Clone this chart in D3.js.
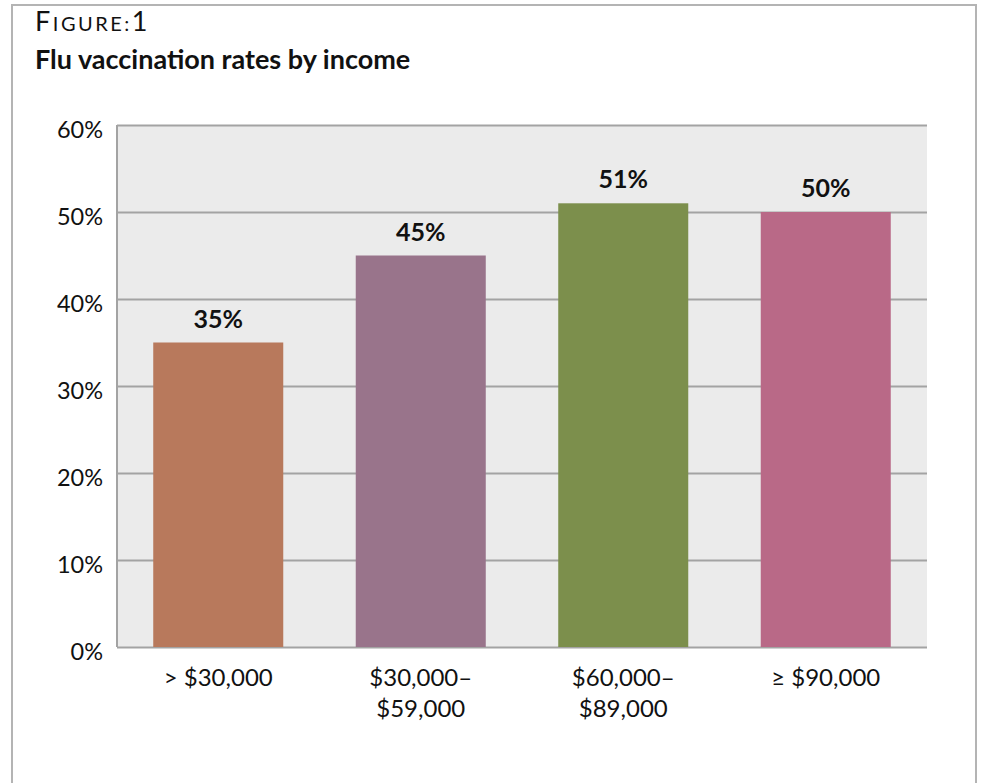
<!DOCTYPE html>
<html>
<head>
<meta charset="utf-8">
<script src="https://cdn.jsdelivr.net/npm/d3@7"></script>
<style>
  body { margin: 0; background: #fff; }
  svg { display: block; }
</style>
</head>
<body>
<div class="chart"></div>
<script>
const width = 984,
      height = 783,
      font = 'Lato';

// data
const categories = ["> $30,000", "$30,000–|$59,000", "$60,000–|$89,000", "≥ $90,000"];
const values = [35, 45, 51, 50];
const colors = ["#b8795c", "#99748b", "#7c8f4c", "#b96987"];
const yTicks = [0, 10, 20, 30, 40, 50, 60];

let plot = {left: 117, right: 927, top: 125, bottom: 647};

var svg = d3.select(".chart").append("svg")
    .attr("width", width)
    .attr("height", height)
    .style("font-family", font);

// outer frame
svg.append("rect")
  .attr("x", 12).attr("y", 5)
  .attr("width", 964).attr("height", 800)
  .attr("fill", "none")
  .attr("stroke", "#b4b4b4")
  .attr("stroke-width", 2);

// heading
let head = svg.append("text")
  .attr("x", 35).attr("y", 31)
  .attr("fill", "#111")
  .style("font-size", "27px")
  .style("letter-spacing", "2.5px");
head.append("tspan").text("F");
head.append("tspan").style("font-size", "20px").text("IGURE:");
head.append("tspan").text("1");

svg.append("text")
  .attr("x", 35).attr("y", 69)
  .attr("fill", "#111")
  .style("font-size", "27px")
  .style("font-weight", "bold")
  .text("Flu vaccination rates by income");

let x = d3.scaleBand()
  .domain(categories)
  .range([plot.left, plot.right])
  .paddingInner(0.358)
  .paddingOuter(0.179);

let y = d3.scaleLinear()
  .domain([0, 60])
  .range([plot.bottom, plot.top]);

// plot background
svg.append("rect")
  .attr("x", plot.left).attr("y", plot.top)
  .attr("width", plot.right - plot.left)
  .attr("height", plot.bottom - plot.top)
  .attr("fill", "#ebebeb");

// gridlines
let yAxis = svg.append("g")
  .attr("transform", "translate(" + plot.left + ",0)")
  .call(d3.axisLeft(y).tickValues(yTicks).tickSize(-(plot.right - plot.left)).tickFormat(d => d + "%"));
yAxis.select(".domain").remove();
yAxis.selectAll(".tick line")
  .attr("stroke", "#a3a3a3")
  .attr("stroke-width", 2);
yAxis.selectAll(".tick text")
  .attr("x", -14)
  .attr("dy", "0.55em")
  .attr("fill", "#111")
  .style("font-family", font)
  .style("font-size", "23.5px");

// left axis line
svg.append("line")
  .attr("x1", plot.left).attr("x2", plot.left)
  .attr("y1", plot.top).attr("y2", plot.bottom)
  .attr("stroke", "#a3a3a3")
  .attr("stroke-width", 2);

// bars
svg.selectAll("rect.bar")
  .data(values)
  .enter()
  .append("rect")
    .attr("class", "bar")
    .attr("x", (d, i) => x(categories[i]))
    .attr("width", x.bandwidth())
    .attr("y", d => y(d))
    .attr("height", d => y(0) - y(d))
    .attr("fill", (d, i) => colors[i]);

// value labels
svg.selectAll("text.val")
  .data(values)
  .enter()
  .append("text")
    .attr("class", "val")
    .attr("x", (d, i) => x(categories[i]) + x.bandwidth() / 2)
    .attr("y", d => y(d) - 15)
    .attr("text-anchor", "middle")
    .attr("fill", "#111")
    .style("font-size", "25px")
    .style("font-weight", "bold")
    .text(d => d + "%");

// x labels
let xl = svg.selectAll("text.cat")
  .data(categories)
  .enter()
  .append("text")
    .attr("class", "cat")
    .attr("text-anchor", "middle")
    .attr("fill", "#111")
    .style("font-size", "24px");
xl.each(function(d) {
  let lines = d.split("|");
  let cx = x(d) + x.bandwidth() / 2;
  lines.forEach((l, j) => {
    d3.select(this).append("tspan")
      .attr("x", cx)
      .attr("y", 686 + j * 31)
      .text(l);
  });
});
</script>
</body>
</html>
